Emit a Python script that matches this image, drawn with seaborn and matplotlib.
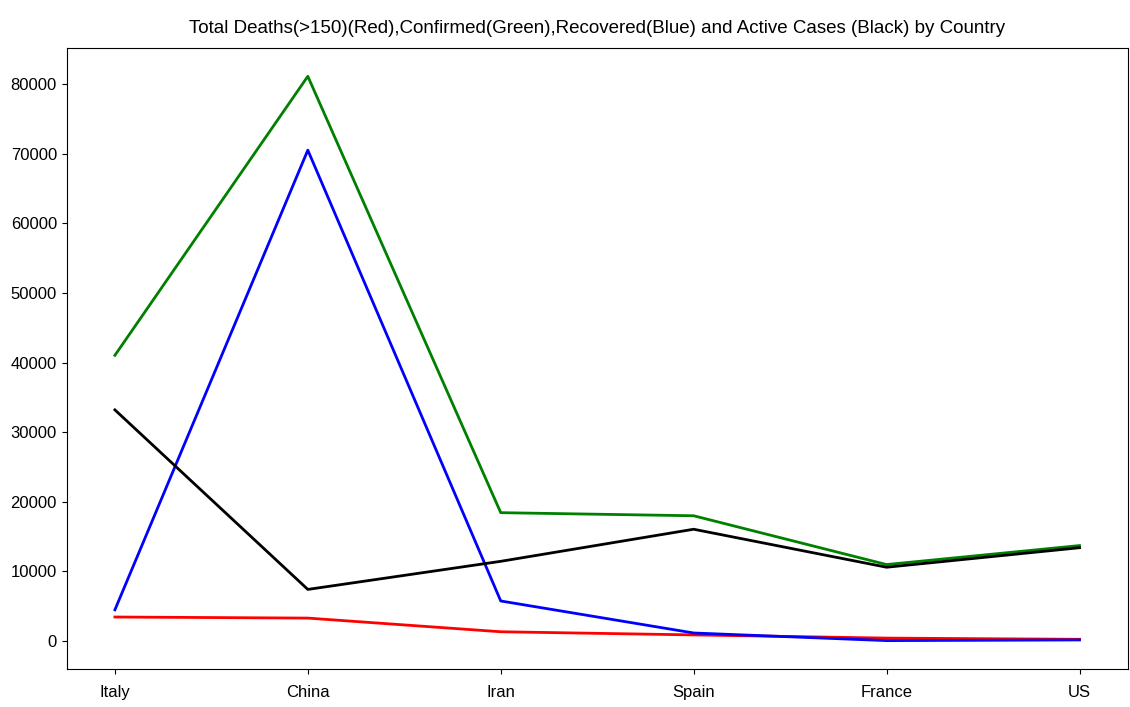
import pandas as pd
import matplotlib.pyplot as plt
import seaborn as sns

countries = ["Italy", "China", "Iran", "Spain", "France", "US"]
deaths = [3405, 3249, 1284, 830, 372, 200]
confirmed = [41035, 81156, 18407, 17963, 10947, 13677]
recovered = [4440, 70535, 5710, 1107, 12, 108]
active = [33190, 7372, 11413, 16026, 10563, 13369]

df = pd.DataFrame({
    "Country": countries,
    "Deaths": deaths,
    "Confirmed": confirmed,
    "Recovered": recovered,
    "Active": active,
})

plt.rcParams["font.family"] = ["Liberation Sans", "DejaVu Sans"]

fig, ax = plt.subplots(figsize=(11.3, 7.07), dpi=100)
fig.subplots_adjust(left=0.059, right=0.998, top=0.932, bottom=0.054)

sns.lineplot(data=df, x="Country", y="Deaths", color="red", linewidth=2, sort=False, ax=ax)
sns.lineplot(data=df, x="Country", y="Confirmed", color="green", linewidth=2, sort=False, ax=ax)
sns.lineplot(data=df, x="Country", y="Recovered", color="blue", linewidth=2, sort=False, ax=ax)
sns.lineplot(data=df, x="Country", y="Active", color="black", linewidth=2, sort=False, ax=ax)

ax.set_title("Total Deaths(>150)(Red),Confirmed(Green),Recovered(Blue) and Active Cases (Black) by Country",
             fontsize=13.5, pad=11)
ax.set_xlabel("")
ax.set_ylabel("")
ax.tick_params(labelsize=12)
ax.tick_params(axis="x", pad=8)

fig.savefig("out.png", dpi=100)
